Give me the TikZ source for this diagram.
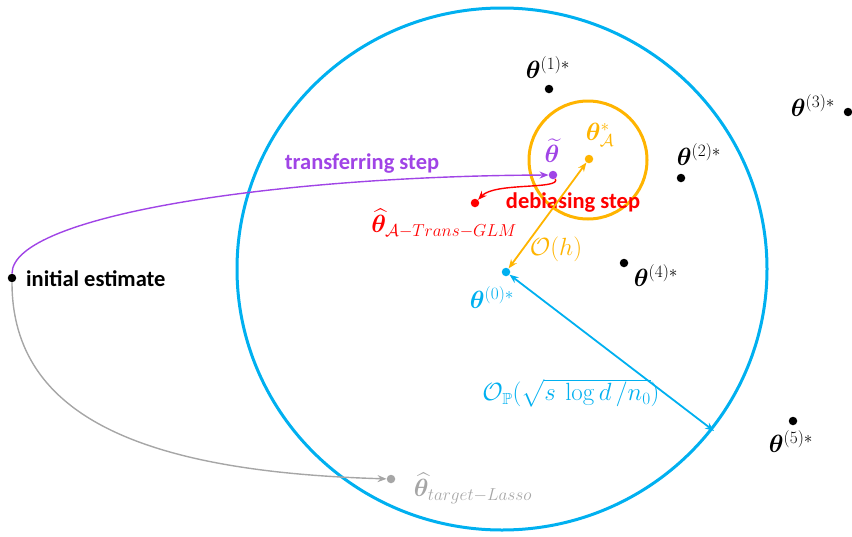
\documentclass[tikz,border=0pt]{standalone}
\usepackage{amsmath,amssymb,bm}
\usepackage[no-math]{fontspec}
\setmainfont{Carlito}
\usepackage{tikz}
\usetikzlibrary{arrows.meta, positioning, calc}
\definecolor{mblue}{HTML}{00B0F0}
\definecolor{morange}{HTML}{FFB400}
\definecolor{mpurple}{HTML}{A044E6}
\definecolor{mred}{HTML}{FF0000}
\definecolor{mgray}{HTML}{A6A6A6}
\tikzset{
  dot/.style={circle, fill, inner sep=0pt, minimum size=8.5pt},
  mlbl/.style={font=\fontsize{23}{27}\selectfont, inner sep=1pt},
  steplbl/.style={font=\fontsize{22.5}{26}\selectfont\bfseries, inner sep=1pt},
  arr/.style={-{Stealth[length=9pt, width=7pt]}, line width=1.4pt},
  darr/.style={{Stealth[length=9pt, width=7pt]}-{Stealth[length=9pt, width=7pt]}, line width=1.8pt},
}

\begin{document}
\begin{tikzpicture}[x=1pt, y=-1pt]
    \useasboundingbox (0,0) rectangle (852,536);
    % regions
    \draw[mblue, line width=3pt] (502,269) ellipse [x radius=265, y radius=261];
    \draw[morange, line width=3pt] (588,160) circle [radius=59];

    % points
    \node[dot] (init) at (12,278) {};
    \node[dot, mpurple] (tilde) at (553,175) {};
    \node[dot, morange] (tA) at (589,159) {};
    \node[dot, mred] (hat) at (475,203) {};
    \node[dot, mblue] (t0) at (506,272) {};
    \node[dot, mgray] (lasso) at (391,479) {};
    \node[dot] (t1) at (549,89) {};
    \node[dot] (t2) at (681,178) {};
    \node[dot] (t3) at (848,112) {};
    \node[dot] (t4) at (624,263) {};
    \node[dot] (t5) at (793,421) {};
    \coordinate (rim) at (714,431);

    % labels
    \node[steplbl, anchor=west] (initlbl) at (25,279) {initial estimate};
    \node[steplbl, text=mpurple] (translbl) at (362,164) {transferring step};
    \node[steplbl, text=mred] (debiaslbl) at (573,203) {debiasing step};
    \node[mlbl, text=mpurple] (tildelbl) at (552,151) {$\widetilde{\bm\theta}$};
    \node[mlbl, text=morange] (tAlbl) at (600,135) {$\bm\theta^{*}_{\mathcal{A}}$};
    \node[mlbl, text=mred] (hatlbl) at (444,223) {$\widehat{\bm\theta}_{\mathcal{A}-Trans-GLM}$};
    \node[mlbl, text=mblue] (t0lbl) at (492,298) {$\bm\theta^{(0)*}$};
    \node[mlbl, text=mgray] (lassolbl) at (473,488) {$\widehat{\bm\theta}_{target-Lasso}$};
    \node[mlbl] (t1lbl) at (548,68) {$\bm\theta^{(1)*}$};
    \node[mlbl] (t2lbl) at (699,155) {$\bm\theta^{(2)*}$};
    \node[mlbl] (t3lbl) at (813,106) {$\bm\theta^{(3)*}$};
    \node[mlbl] (t4lbl) at (656,276) {$\bm\theta^{(4)*}$};
    \node[mlbl] (t5lbl) at (791,442) {$\bm\theta^{(5)*}$};
    \node[mlbl, text=morange] (hlbl) at (556,249) {$\mathcal{O}(h)$};
    \node[mlbl, text=mblue] (plbl) at (571,393) {$\mathcal{O}_{\mathbb{P}}(\sqrt{s\ \log d\,/n_0})$};

    % steps
    \draw[arr, mpurple] (init) .. controls (12,215) and (280,176) .. (tilde);
    \draw[arr, mgray] (init) .. controls (12,420) and (150,472) .. (lasso);
    \draw[arr, mred] (tilde) .. controls (562,190) and (495,182) .. (hat);
    \draw[darr, morange] (t0) -- (tA);
    \draw[darr, mblue] (t0) -- (rim);
\end{tikzpicture}
\end{document}
